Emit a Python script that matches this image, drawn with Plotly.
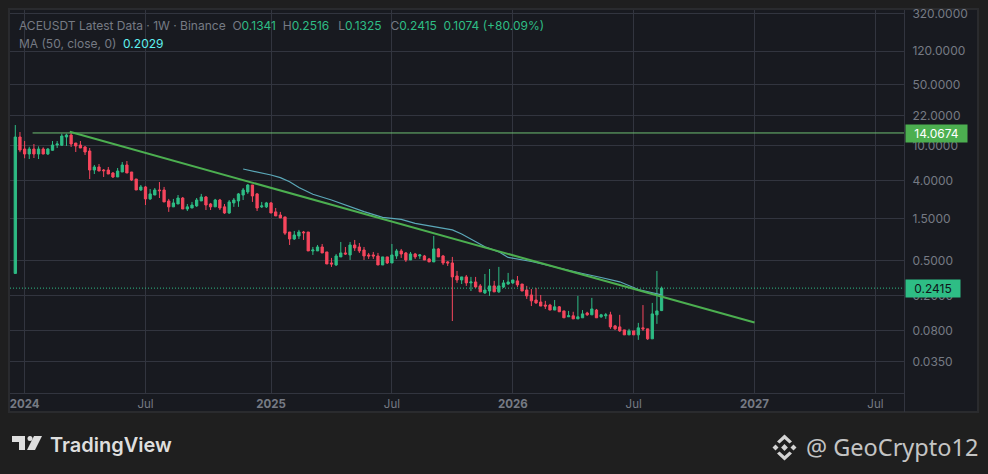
import pandas as pd
import plotly.graph_objects as go

W, H = 988, 474

# ---------- data ----------
first_week = "2023-12-18"
open_ = [
 .355,12.65,9.24,8.11,9.24,8.11,9.24,8.11,8.93,10.26,
 10.18,12.65,13.33,10.81,10.26,9.74,8.77,5.33,5.77,5.33,
 5.33,4.93,4.44,5.06,6.08,5.06,4.21,3.16,3.42,2.50,
 2.77,3.16,3.16,2.37,2.03,2.19,2.56,1.92,1.97,2.08,
 2.37,2.63,2.19,2.03,2.43,2.03,1.73,2.25,2.37,2.77,
 3.00,3.60,2.85,2.03,2.03,2.25,1.78,1.64,1.56,1.05,
 .875,.947,1.05,1.05,.640,.640,.710,.623,.467,.443,
 .547,.607,.576,.748,.710,.656,.576,.576,.561,.443,
 .547,.467,.561,.640,.607,.505,.591,.561,.561,.519,
 .480,.674,.561,.480,.467,.332,.299,.324,.277,.284,
 .256,.213,.224,.256,.219,.249,.269,.277,.292,.269,
 .230,.202,.177,.168,.155,.155,.136,.148,.133,.114,
 .117,.108,.111,.126,.120,.136,.114,.117,.120,.0898,
 .0875,.0809,.0710,.0788,.0710,.0853,.0831,.0640,.120,.1341]
close = [
 12.65,9.00,8.11,9.24,8.11,9.24,8.11,9.24,10.26,10.53,
 12.99,13.33,10.53,10.0,9.49,8.54,5.33,5.77,5.19,5.23,
 4.80,4.44,5.19,6.08,4.93,4.10,3.16,3.42,2.50,2.85,
 3.16,3.10,2.31,2.03,2.25,2.56,1.92,2.03,2.13,2.43,
 2.63,2.13,2.03,2.43,1.97,1.73,2.31,2.43,2.85,3.16,
 3.60,2.70,1.97,2.08,2.25,1.73,1.60,1.52,1.02,.875,
 .972,1.05,1.03,.640,.656,.710,.607,.455,.455,.561,
 .607,.591,.748,.692,.640,.561,.561,.561,.443,.547,
 .467,.576,.640,.591,.505,.591,.547,.576,.505,.480,
 .674,.547,.467,.467,.324,.299,.324,.277,.284,.249,
 .219,.230,.256,.219,.256,.277,.284,.299,.263,.224,
 .197,.173,.164,.151,.151,.136,.148,.130,.111,.117,
 .108,.114,.123,.120,.140,.111,.120,.120,.0875,.0831,
 .0788,.0710,.0788,.0710,.0853,.0831,.0640,.123,.133,.2415]
high = [
 17.3,14.42,11.39,9.8,10.53,9.9,9.65,9.49,11.39,11.39,
 13.8,13.8,14.42,10.81,11.39,10.0,9.49,6.08,6.24,5.47,
 5.77,5.06,5.62,6.57,6.75,5.06,4.21,3.60,3.51,3.24,
 3.33,3.89,3.42,2.50,2.50,2.77,2.63,2.19,2.31,2.56,
 2.85,2.70,2.25,2.50,2.50,2.19,2.43,2.56,2.92,3.33,
 3.69,3.60,2.92,2.31,2.31,2.31,1.97,1.78,1.56,1.05,
 1.08,1.11,1.08,1.05,.710,.748,.768,.623,.533,.591,
 .809,.710,.809,.853,.788,.710,.607,.623,.607,.547,
 .547,.768,.674,.674,.623,.623,.607,.591,.576,.533,
 .947,.692,.576,.492,.547,.379,.324,.341,.324,.324,
 .269,.350,.399,.292,.421,.299,.360,.299,.332,.269,
 .256,.236,.243,.202,.173,.160,.177,.151,.133,.133,
 .130,.197,.136,.130,.187,.140,.123,.126,.130,.0922,
 .120,.0809,.0831,.0788,.0972,.155,.0831,.164,.379,.2516]
low = [
 .355,8.5,7.25,7.11,7.30,7.11,8.05,7.90,8.84,9.49,
 10.0,10.0,9.74,8.54,9.49,7.90,4.21,4.80,5.19,4.44,
 4.80,4.32,4.44,5.06,4.93,4.00,3.16,3.08,2.13,2.43,
 2.77,2.56,2.31,1.78,2.03,2.19,1.92,1.82,1.97,2.03,
 2.37,1.87,1.87,2.03,1.87,1.69,1.69,2.03,2.03,2.43,
 2.85,2.31,1.82,1.97,1.97,1.73,1.60,1.52,.972,.748,
 .853,.875,.853,.640,.576,.640,.607,.455,.421,.432,
 .547,.576,.505,.640,.607,.505,.519,.519,.443,.443,
 .455,.467,.519,.533,.480,.505,.519,.519,.505,.480,
 .480,.547,.443,.432,.102,.277,.269,.256,.224,.243,
 .219,.207,.197,.219,.213,.243,.263,.269,.249,.224,
 .182,.151,.160,.151,.140,.136,.136,.130,.111,.114,
 .108,.108,.111,.117,.120,.111,.111,.108,.0831,.0809,
 .0768,.0710,.0710,.0710,.0623,.0788,.0623,.0640,.0947,.1325]

# 50-week moving average, read at selected weeks (week number from first_week)
ma_weeks = [49,53,55,57,59,61,64,68,71,75,79,83,86,90,94,96,98,101,104,106,111,117,122,126,130,134,139]
ma_values = [5.47,4.98,4.68,4.36,3.92,3.37,2.82,2.43,2.13,1.79,1.54,1.46,1.32,1.21,1.11,.998,.875,.715,.625,.54,.485,.404,.354,.319,.285,.233,.2029]

trend_dates = ["2024-03-09", "2027-01-04"]
trend_values = [14.5, 0.098]
level_value = 14.0674
level_start = "2024-01-13"
last_price = 0.2415
axis_start, axis_end = "2023-12-10", "2027-08-17"

y_ticks = [320, 120, 50, 22, 10, 4, 1.5, 0.5, 0.2, 0.08, 0.035]
x_tick_dates = ["2024-01-01","2024-07-01","2025-01-06","2025-07-07","2026-01-05","2026-07-06","2027-01-04","2027-07-05"]
x_tick_text = ["<b>2024</b>","Jul","<b>2025</b>","Jul","<b>2026</b>","Jul","<b>2027</b>","Jul"]

# ---------- colours ----------
PAGE = "#1f1f1f"; PANEL = "#181a20"; GRID = "#32353f"; BORDER = "#2a2b2e"
UP = "#2ebd85"; DOWN = "#f6465d"; TREND = "#4caf50"; LEVEL = "#6fbf73"; MA = "#5ba8b8"; TXT = "#767a84"
LOGO = "#dedede"

dates = pd.date_range(first_week, periods=len(open_), freq="7D")
ma_dates = [dates[0] + pd.Timedelta(days=7 * w) for w in ma_weeks]

def px(x): return x / W
def py(y): return 1 - y / H

fig = go.Figure()
fig.add_trace(go.Candlestick(
    x=dates, open=open_, high=high, low=low, close=close, whiskerwidth=0,
    increasing=dict(line=dict(color=UP, width=1), fillcolor=UP),
    decreasing=dict(line=dict(color=DOWN, width=1), fillcolor=DOWN),
    showlegend=False))
fig.add_trace(go.Scatter(x=[axis_start, axis_end], y=[last_price, last_price], mode="lines",
                         line=dict(color=UP, width=1, dash="1px,2px"), showlegend=False))
fig.add_trace(go.Scatter(x=[level_start, axis_end], y=[level_value, level_value], mode="lines",
                         line=dict(color=LEVEL, width=1), showlegend=False))
fig.add_trace(go.Scatter(x=ma_dates, y=ma_values, mode="lines",
                         line=dict(color=MA, width=1.2), showlegend=False))
fig.add_trace(go.Scatter(x=trend_dates, y=trend_values, mode="lines",
                         line=dict(color=TREND, width=2), showlegend=False))

def path(points):
    return "M" + "L".join(f"{px(x):.5f},{py(y):.5f}" for x, y in points) + "Z"

def poly(points, color):
    return dict(type="path", xref="paper", yref="paper", path=path(points),
                fillcolor=color, line=dict(width=0), layer="above")

def diamond(cx, cy, r, color):
    return poly([(cx, cy - r), (cx + r, cy), (cx, cy + r), (cx - r, cy)], color)

shapes = [
    dict(type="rect", xref="paper", yref="paper", x0=px(9), x1=px(978), y0=py(412), y1=py(9),
         fillcolor=PANEL, line=dict(color=BORDER, width=2), layer="below"),
    dict(type="line", xref="paper", yref="paper", x0=px(904.5), x1=px(904.5), y0=py(412), y1=py(10),
         line=dict(color=GRID, width=1), layer="below"),
    # TradingView mark
    poly([(12, 436), (25, 436), (25, 450), (19, 450), (19, 442), (12, 442)], LOGO),
    poly([(34, 436), (42, 436), (35, 450), (27, 450)], LOGO),
    dict(type="circle", xref="paper", yref="paper", x0=px(27.5), x1=px(32.5), y0=py(441), y1=py(436),
         fillcolor=LOGO, line=dict(width=0), layer="above"),
    # Binance mark
    diamond(784.5, 447.5, 3.4, "#d4d4d4"),
    diamond(775.5, 447.5, 3, "#d4d4d4"),
    diamond(793.5, 447.5, 3, "#d4d4d4"),
    poly([(784.5, 434.5), (792, 441.5), (789.5, 443.5), (784.5, 439), (779.5, 443.5), (777, 441.5)], "#d4d4d4"),
    poly([(784.5, 460.5), (792, 453.5), (789.5, 451.5), (784.5, 456), (779.5, 451.5), (777, 453.5)], "#d4d4d4"),
]

sp = "\u00a0\u00a0"
hdr = (f"<span style='color:{TXT}'>ACEUSDT Latest Data · 1W · Binance{sp}O</span>"
       f"<span style='color:{UP}'>0.1341</span><span style='color:{TXT}'>{sp}H</span>"
       f"<span style='color:{UP}'>0.2516</span><span style='color:{TXT}'>{sp}\u2009L</span>"
       f"<span style='color:{UP}'>0.1325</span><span style='color:{TXT}'>{sp}\u2009C</span>"
       f"<span style='color:{UP}'>0.2415{sp}0.1074{sp[0]}(+80.09%)</span>")
ma_hdr = (f"<span style='color:{TXT}'>MA (50, close, 0){sp}</span>"
          f"<span style='color:#5ff0f0'>0.2029</span>")

annotations = [
    dict(xref="paper", yref="paper", x=px(16.5), y=py(25.5), text=hdr, showarrow=False, xanchor="left", yanchor="middle",
         font=dict(family="Inter", size=12)),
    dict(xref="paper", yref="paper", x=px(16.5), y=py(43.5), text=ma_hdr, showarrow=False, xanchor="left", yanchor="middle",
         font=dict(family="Inter", size=12)),
    dict(xref="paper", yref="paper", x=px(905), y=py(133.5), text="14.0674", showarrow=False, xanchor="left", yanchor="middle",
         font=dict(family="Inter", size=12, color="#ffffff"), bgcolor=TREND, width=59, height=15, align="center"),
    dict(xref="paper", yref="paper", x=px(905), y=py(288.5), text="0.2415", showarrow=False, xanchor="left", yanchor="middle",
         font=dict(family="Inter", size=12, color="#10141a"), bgcolor=UP, width=52, height=15, align="center"),
    dict(xref="paper", yref="paper", x=px(47.5), y=py(444.5), text="TradingView", showarrow=False, xanchor="left", yanchor="middle",
         font=dict(family="Inter", size=20, color=LOGO, weight=600)),
    dict(xref="paper", yref="paper", x=px(980), y=py(447), text="@ GeoCrypto12", showarrow=False, xanchor="right", yanchor="middle",
         font=dict(family="Noto Sans", size=23.5, color="#c4c4c4")),
]

fig.update_layout(
    width=W, height=H, margin=dict(l=0, r=0, t=0, b=0), autosize=False,
    paper_bgcolor=PAGE, plot_bgcolor="rgba(0,0,0,0)", showlegend=False, hovermode=False,
    shapes=shapes, annotations=annotations,
    font=dict(family="Inter", color=TXT, size=12),
)
fig.update_xaxes(
    domain=[px(10), px(904)], type="date", range=[axis_start, axis_end], automargin=False,
    rangeslider=dict(visible=False), tickmode="array", tickvals=x_tick_dates, ticktext=x_tick_text,
    showgrid=True, gridcolor=GRID, gridwidth=1, zeroline=False,
    showline=True, linecolor=GRID, ticks="", tickfont=dict(size=11.5, color=TXT),
)
fig.update_yaxes(
    domain=[py(393), py(10)], type="log", range=[-1.81, 2.547], side="right", automargin=False,
    tickmode="array", tickvals=y_ticks, ticktext=[f"{t:.4f}" for t in y_ticks],
    showgrid=True, gridcolor=GRID, gridwidth=1, zeroline=False, showline=False,
    ticks="outside", ticklen=5, tickcolor="rgba(0,0,0,0)", tickfont=dict(size=12, color=TXT),
)

fig.write_html("out.html", config=dict(displayModeBar=False, staticPlot=True),
               post_script="document.body.style.margin='0';document.body.style.overflow='hidden';")
